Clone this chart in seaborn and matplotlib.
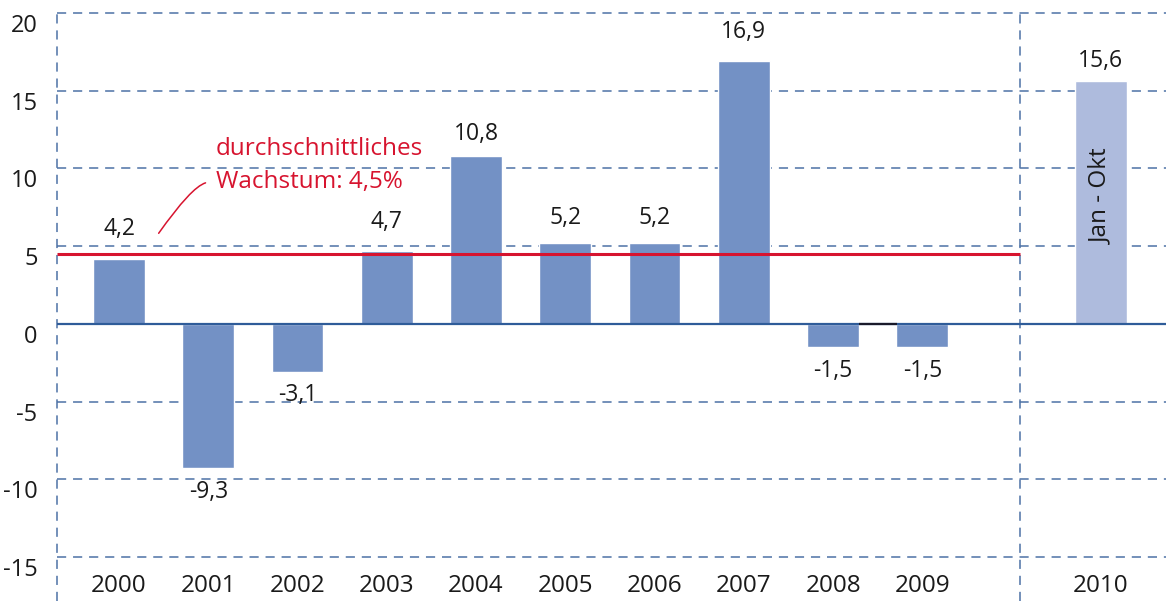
import matplotlib
matplotlib.use("Agg")
import matplotlib.pyplot as plt
import matplotlib.transforms as mtransforms
import seaborn as sns
import pandas as pd

years = ["2000", "2001", "2002", "2003", "2004", "2005", "2006", "2007", "2008", "2009", "2010"]
values = [4.2, -9.3, -3.1, 4.7, 10.8, 5.2, 5.2, 16.9, -1.5, -1.5, 15.6]
labels = ["4,2", "-9,3", "-3,1", "4,7", "10,8", "5,2", "5,2", "16,9", "-1,5", "-1,5", "15,6"]
order = ["2000", "2001", "2002", "2003", "2004", "2005", "2006", "2007", "2008", "2009", " ", "2010"]
average = 4.5
avg_line1 = "durchschnittliches"
avg_line2 = "Wachstum: 4,5%"
partial_text = "Jan - Okt"
yticks = [-15, -10, -5, 0, 5, 10, 15, 20]

# label offsets in pixels (style)
label_offsets = [29.5, -24, -23, 29, 22, 25, 25, 29, -23.5, -23.5, 20]

BAR = "#7391c5"
BAR_LIGHT = "#aebbdd"
GRID = "#4d72a6"
ZERO = "#2f5c99"
RED = "#d7142f"
TXT = "#1a1a1a"

sns.set_theme(style="white")
plt.rcParams["font.family"] = ["Open Sans", "DejaVu Sans"]

df = pd.DataFrame({"year": years, "value": values})
palette = {y: BAR for y in years}
palette["2010"] = BAR_LIGHT

fig = plt.figure(figsize=(11.66, 6.01), dpi=100)
ax = fig.add_axes([57 / 1166, 1 - 557 / 601, 1 - 57 / 1166, (557 - 13) / 601])

sns.barplot(data=df, x="year", y="value", hue="year", order=order, palette=palette,
            width=0.58, legend=False, ax=ax, zorder=3, saturation=1)

ax.set_xlim(-0.695, 11.73)
ax.set_ylim(-15, 20)
ax.set_yticks(yticks)
ax.set_yticklabels([str(t) for t in yticks])
ax.set_xlabel("")
ax.set_ylabel("")
for s in ax.spines.values():
    s.set_visible(False)

# gridlines
for t in yticks:
    if t != 0:
        ax.axhline(t, color=GRID, lw=1.1, dashes=(6, 4.5), zorder=1, clip_on=False)
ax.axhline(0, color=ZERO, lw=1.6, zorder=4)
ax.hlines(0, 8.29, 8.72, color="#1a1a2a", lw=1.6, zorder=4)
for xv in (-0.695, 10.09):
    ax.axvline(xv, ymin=-0.08, ymax=1, color=GRID, lw=1.1, dashes=(6, 4.5), zorder=1, clip_on=False)

# average line
ax.hlines(average, -0.695, 10.09, color=RED, lw=2.2, zorder=5)
ax.text(1.087, 11.25, avg_line1, color=RED, fontsize=17.5, ha="left", va="center", zorder=6)
ax.text(1.087, 9.1, avg_line2, color=RED, fontsize=17.5, ha="left", va="center", zorder=6)
ax.annotate("", xy=(1.0, 9.1), xytext=(0.426, 5.68),
            arrowprops=dict(arrowstyle="-", color=RED, lw=1.1,
                            connectionstyle="angle3,angleA=55,angleB=0"), zorder=6)

# value labels
pos = {y: order.index(y) for y in years}
for y, v, lab, off in zip(years, values, labels, label_offsets):
    ax.annotate(lab, xy=(pos[y], v), xytext=(0, off), textcoords="offset pixels",
                ha="center", va="center", fontsize=16.5, color=TXT, zorder=6)

ax.text(pos["2010"], 8.2, partial_text, rotation=90, ha="center", va="center",
        fontsize=17.5, color=TXT, zorder=6)

ax.tick_params(axis="x", length=0, pad=12, labelsize=17.5, labelcolor=TXT)
ax.tick_params(axis="y", length=0, pad=14, labelsize=17, labelcolor=TXT)
offset = mtransforms.ScaledTranslation(0, -0.10, fig.dpi_scale_trans)
for lab in ax.get_yticklabels():
    lab.set_transform(lab.get_transform() + offset)

fig.savefig("out.png", dpi=100)
